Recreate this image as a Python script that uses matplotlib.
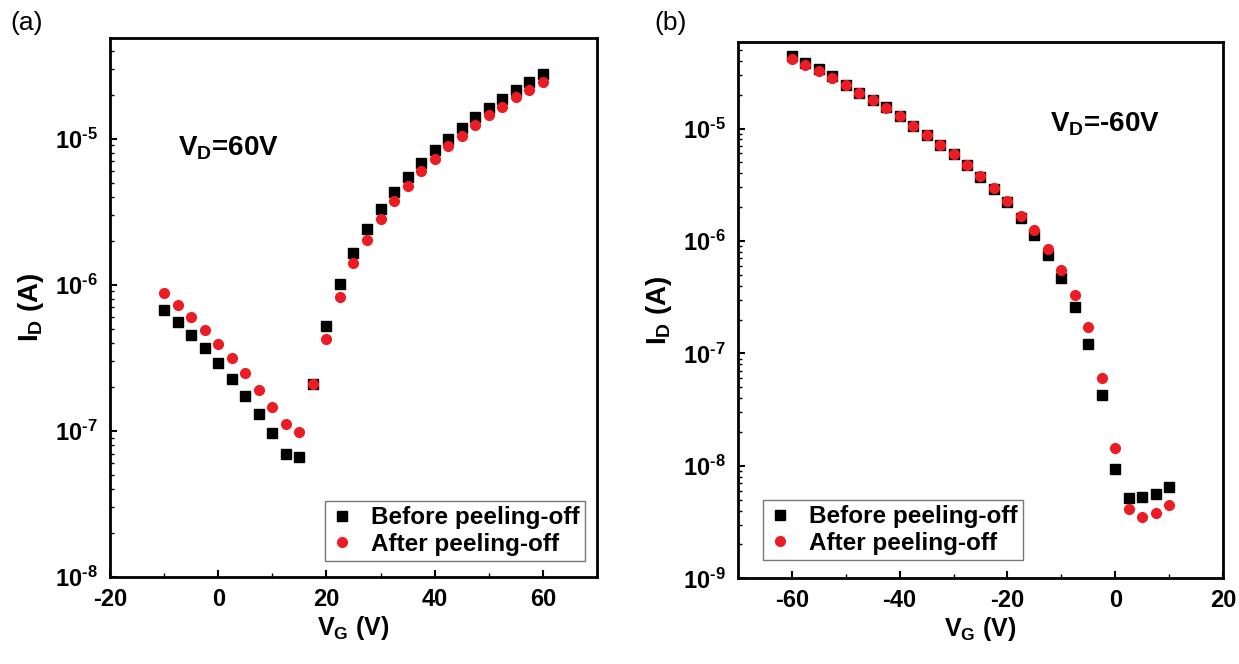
import numpy as np
import matplotlib
matplotlib.use('Agg')
import matplotlib.pyplot as plt
from matplotlib.ticker import FixedLocator, MultipleLocator, NullFormatter, FuncFormatter

plt.rcParams['font.family'] = ['Liberation Sans', 'DejaVu Sans']
plt.rcParams['font.weight'] = 'bold'
plt.rcParams['axes.unicode_minus'] = False
plt.rcParams['mathtext.fontset'] = 'custom'
plt.rcParams['mathtext.rm'] = 'Liberation Sans:bold'
plt.rcParams['mathtext.bf'] = 'Liberation Sans:bold'
plt.rcParams['mathtext.it'] = 'Liberation Sans:bold'

# (a) V_D = 60 V
vg_a = [-10, -7.5, -5, -2.5, 0, 2.5, 5, 7.5, 10, 12.5, 15, 17.5, 20, 22.5, 25,
        27.5, 30, 32.5, 35, 37.5, 40, 42.5, 45, 47.5, 50, 52.5, 55, 57.5, 60]
before_a = [6.7e-7, 5.57e-7, 4.55e-7, 3.67e-7, 2.9e-7, 2.25e-7, 1.73e-7, 1.31e-7,
            9.7e-8, 7.0e-8, 6.6e-8, 2.08e-7, 5.26e-7, 1.02e-6, 1.65e-6, 2.4e-6,
            3.31e-6, 4.35e-6, 5.5e-6, 6.8e-6, 8.4e-6, 1.0e-5, 1.19e-5, 1.40e-5,
            1.61e-5, 1.87e-5, 2.15e-5, 2.45e-5, 2.79e-5]
after_a = [8.85e-7, 7.3e-7, 5.98e-7, 4.88e-7, 3.94e-7, 3.16e-7, 2.48e-7, 1.91e-7,
           1.46e-7, 1.12e-7, 9.9e-8, 2.08e-7, 4.27e-7, 8.26e-7, 1.41e-6, 2.03e-6,
           2.8e-6, 3.74e-6, 4.74e-6, 5.97e-6, 7.31e-6, 8.96e-6, 1.05e-5, 1.25e-5,
           1.45e-5, 1.66e-5, 1.92e-5, 2.17e-5, 2.45e-5]

# (b) V_D = -60 V
vg_b = [-60, -57.5, -55, -52.5, -50, -47.5, -45, -42.5, -40, -37.5, -35, -32.5,
        -30, -27.5, -25, -22.5, -20, -17.5, -15, -12.5, -10, -7.5, -5, -2.5, 0,
        2.5, 5, 7.5, 10]
before_b = [4.4e-5, 3.84e-5, 3.36e-5, 2.94e-5, 2.45e-5, 2.08e-5, 1.79e-5, 1.54e-5,
            1.30e-5, 1.06e-5, 8.8e-6, 7.2e-6, 5.93e-6, 4.73e-6, 3.73e-6, 2.91e-6,
            2.21e-6, 1.61e-6, 1.13e-6, 7.47e-7, 4.7e-7, 2.57e-7, 1.22e-7, 4.27e-8,
            9.4e-9, 5.18e-9, 5.3e-9, 5.58e-9, 6.5e-9]
after_b = [4.17e-5, 3.7e-5, 3.23e-5, 2.79e-5, 2.42e-5, 2.05e-5, 1.78e-5, 1.52e-5,
           1.28e-5, 1.06e-5, 8.8e-6, 7.2e-6, 5.93e-6, 4.73e-6, 3.78e-6, 2.93e-6,
           2.26e-6, 1.67e-6, 1.26e-6, 8.48e-7, 5.54e-7, 3.28e-7, 1.71e-7, 6.1e-8,
           1.45e-8, 4.14e-9, 3.51e-9, 3.84e-9, 4.46e-9]

fig = plt.figure(figsize=(12.39, 6.64), dpi=100)
ax1 = fig.add_axes([0.0888, 0.131, 0.393, 0.812])
ax2 = fig.add_axes([0.5956, 0.129, 0.3915, 0.808])


def decade(v, pos):
    # hyphen-style exponent like the original Origin labels
    return '10$^{\\text{-%d}}$' % round(-np.log10(v))


def style(ax, xlim, ylim, major):
    ax.set_yscale('log')
    ax.set_xlim(*xlim)
    ax.set_ylim(*ylim)
    ax.xaxis.set_major_locator(MultipleLocator(major))
    ax.xaxis.set_minor_locator(MultipleLocator(major / 2))
    # only decades inside the visible range, so no label falls off the figure
    lo, hi = int(np.ceil(np.log10(ylim[0]))), int(np.floor(np.log10(ylim[1])))
    majors = [10.0 ** e for e in range(lo, hi + 1)]
    minors = [m * 10.0 ** e for e in range(lo, hi + 1) for m in range(2, 10)
              if m * 10.0 ** e < ylim[1]]
    ax.yaxis.set_major_locator(FixedLocator(majors))
    ax.yaxis.set_minor_locator(FixedLocator(minors))
    ax.yaxis.set_major_formatter(FuncFormatter(decade))
    ax.yaxis.set_minor_formatter(NullFormatter())
    ax.tick_params(which='both', direction='in', top=False, right=False,
                   labelsize=17)
    ax.tick_params(axis='x', which='major', pad=8)
    ax.tick_params(axis='y', which='major', pad=9)
    ax.tick_params(which='major', length=5, width=1.5)
    ax.tick_params(which='minor', length=3, width=1.0)
    for s in ax.spines.values():
        s.set_linewidth(2)
    ax.set_xlabel(r'$\mathregular{V_G}$ (V)', fontsize=18, fontweight='bold',
                  labelpad=2)
    ax.set_ylabel(r'$\mathregular{I_D}$ (A)', fontsize=20, fontweight='bold',
                  labelpad=6)


def legend(ax, loc, anchor):
    leg = ax.legend(loc=loc, bbox_to_anchor=anchor, borderaxespad=0,
                    fontsize=17.5, frameon=True, fancybox=False,
                    edgecolor='#555555', handlelength=1.0, handletextpad=0.7,
                    borderpad=0.2, labelspacing=0.15)
    leg.get_frame().set_linewidth(1.0)


ax1.plot(vg_a, before_a, 's', color='black', ms=6.5, label='Before peeling-off')
ax1.plot(vg_a, after_a, 'o', color='#ec1c24', ms=7, label='After peeling-off')
style(ax1, (-20, 70), (1e-8, 4.9e-5), 20)
ax1.text(0.14, 0.795, r'$\mathregular{V_D}$=60V', transform=ax1.transAxes,
         fontsize=20, fontweight='bold', va='center')
legend(ax1, 'lower right', (0.975, 0.03))

ax2.plot(vg_b, before_b, 's', color='black', ms=6.5, label='Before peeling-off')
ax2.plot(vg_b, after_b, 'o', color='#ec1c24', ms=7, label='After peeling-off')
style(ax2, (-70, 20), (1e-9, 5.9e-5), 20)
ax2.text(0.643, 0.847, r'$\mathregular{V_D}$=-60V', transform=ax2.transAxes,
         fontsize=20, fontweight='bold', va='center')
legend(ax2, 'lower left', (0.052, 0.035))

fig.text(0.008, 0.965, '(a)', fontsize=19, fontweight='normal', va='center')
fig.text(0.528, 0.965, '(b)', fontsize=19, fontweight='normal', va='center')

fig.savefig('out.png', dpi=100)
